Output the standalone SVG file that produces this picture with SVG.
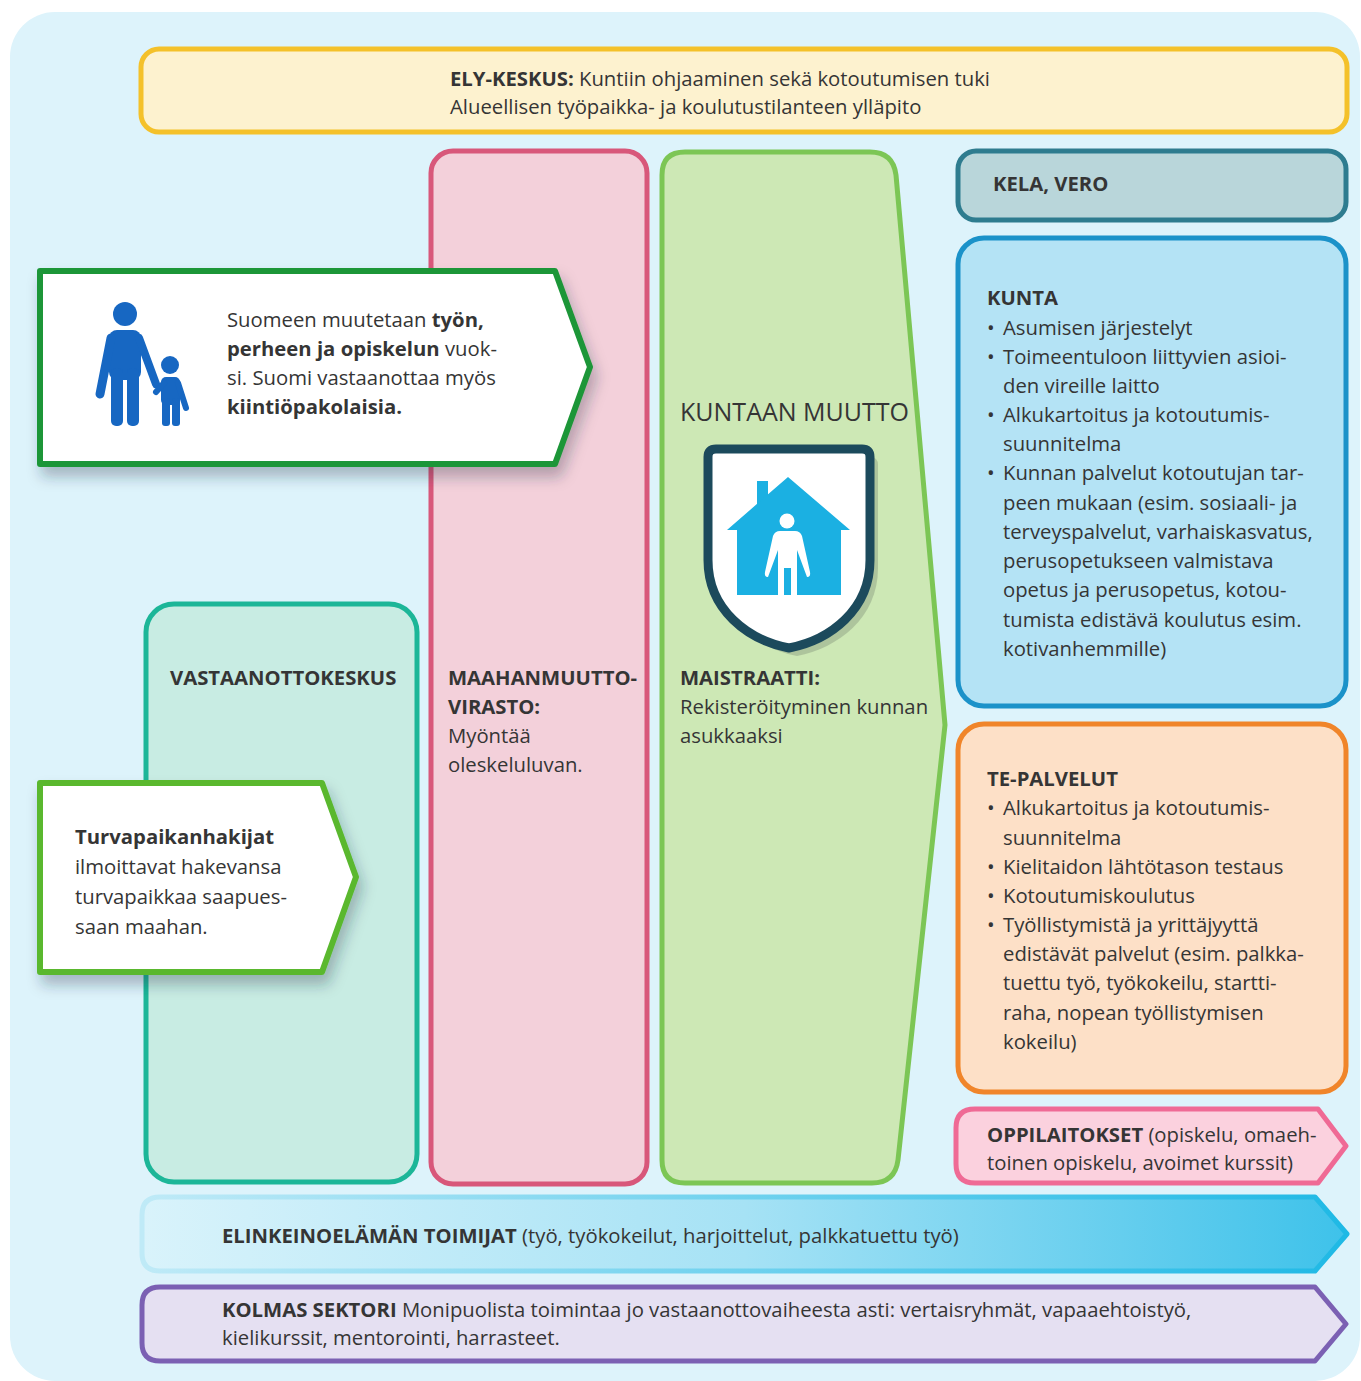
<svg xmlns="http://www.w3.org/2000/svg" width="1361" height="1381" viewBox="0 0 1361 1381">
<defs>
<style>
.t{font-family:"Open Sans","Noto Sans","DejaVu Sans",sans-serif;font-size:20.3px;fill:#353535}
.b{font-weight:700}
.box{stroke-width:5;stroke-linejoin:round}
</style>
<linearGradient id="gElin" x1="0" y1="0" x2="1" y2="0">
<stop offset="0" stop-color="#d9f3fb"/>
<stop offset="0.5" stop-color="#a6e2f5"/>
<stop offset="1" stop-color="#3ec2ea"/>
</linearGradient>
<linearGradient id="gElinS" x1="0" y1="0" x2="1" y2="0">
<stop offset="0" stop-color="#bfeaf7"/>
<stop offset="1" stop-color="#1fb9e5"/>
</linearGradient>
<filter id="sh" x="-10%" y="-10%" width="130%" height="140%">
<feDropShadow dx="4" dy="10" stdDeviation="7" flood-color="#203040" flood-opacity="0.3"/>
</filter>
</defs>
<rect x="0" y="0" width="1361" height="1381" fill="#ffffff"/>
<rect x="10" y="12" width="1350" height="1369" rx="45" fill="#ddf3fb"/>

<g id="ely">
<rect class="box" x="141" y="49" width="1206" height="83" rx="18" fill="#fdf2cf" stroke="#f4c12a"/>
<text class="t" x="450" y="86"><tspan class="b">ELY-KESKUS:</tspan> Kuntiin ohjaaminen sekä kotoutumisen tuki</text>
<text class="t" x="450" y="114">Alueellisen työpaikka- ja koulutustilanteen ylläpito</text>
</g>

<g id="maahanmuuttovirasto">
<rect class="box" x="431" y="151" width="216" height="1033" rx="22" fill="#f3d0da" stroke="#d8577a"/>
<text class="t b" x="448" y="685">MAAHANMUUTTO-</text>
<text class="t b" x="448" y="714">VIRASTO:</text>
<text class="t" x="448" y="743">Myöntää</text>
<text class="t" x="448" y="772">oleskeluluvan.</text>
</g>

<g id="kuntaan-muutto">
<path class="box" d="M685 152 H870 Q893 152 896 175 L945 725 L898 1160 Q895 1183 872 1183 H685 Q662 1183 662 1160 V175 Q662 152 685 152 Z" fill="#cde8b5" stroke="#7cc655"/>
<text class="t" x="680" y="421" style="font-size:25px">KUNTAAN MUUTTO</text>
<path d="M724 457 H870 Q878 457 878 465 V568 C878 618 838 648 797 656 C756 648 716 618 716 568 V465 Q716 457 724 457 Z" fill="#9fb592" opacity="0.7"/>
<path d="M716 449 H862 Q870 449 870 457 V560 C870 610 830 640 789 648 C748 640 708 610 708 560 V457 Q708 449 716 449 Z" fill="#ffffff" stroke="#1c4a5c" stroke-width="9"/>
<rect x="757" y="481" width="11" height="26" fill="#1bb0e2"/>
<path d="M788 477 L850 530 L841 530 L841 595 L737 595 L737 530 L727 530 Z" fill="#1bb0e2"/>
<circle cx="787" cy="521" r="7.5" fill="#ffffff"/>
<path d="M780 531 H795 Q800 531 802 536 L810 572 Q811 577 807 577 L797 550 V595 H791 V568 H784 V595 H778 V550 L768 577 Q764 577 765 572 L773 536 Q775 531 780 531 Z" fill="#ffffff"/>
<text class="t b" x="680" y="685">MAISTRAATTI:</text>
<text class="t" x="680" y="714">Rekisteröityminen kunnan</text>
<text class="t" x="680" y="743">asukkaaksi</text>
</g>

<g id="vastaanottokeskus">
<rect class="box" x="146" y="604" width="271" height="578" rx="28" fill="#c8ece3" stroke="#1cb698"/>
<text class="t b" x="170" y="685">VASTAANOTTOKESKUS</text>
</g>

<g id="muuttajat">
<path d="M40 271 H555 L590 367 L555 464 H40 Z" fill="#ffffff" stroke="#1e9639" stroke-width="6" stroke-linejoin="round" filter="url(#sh)"/>
<g fill="#1767c2" stroke="#1767c2" stroke-linecap="round">
<circle cx="125" cy="314" r="12" stroke="none"/>
<rect x="109" y="330" width="32" height="50" rx="8" stroke="none"/>
<rect x="111" y="368" width="12" height="58" rx="5" stroke="none"/>
<rect x="127" y="368" width="12" height="58" rx="5" stroke="none"/>
<line x1="111" y1="338" x2="100" y2="394" stroke-width="9"/>
<line x1="139" y1="338" x2="156" y2="384" stroke-width="8"/>
<circle cx="170" cy="365" r="9" stroke="none"/>
<rect x="161" y="377" width="19" height="28" rx="5" stroke="none"/>
<rect x="162" y="398" width="8" height="28" rx="3" stroke="none"/>
<rect x="172" y="398" width="8" height="28" rx="3" stroke="none"/>
<line x1="164" y1="383" x2="156" y2="392" stroke-width="6"/>
<line x1="178" y1="383" x2="186" y2="408" stroke-width="6"/>
</g>
<text class="t" x="227" y="327">Suomeen muutetaan <tspan class="b">työn,</tspan></text>
<text class="t" x="227" y="356"><tspan class="b">perheen ja opiskelun</tspan> vuok-</text>
<text class="t" x="227" y="385">si. Suomi vastaanottaa myös</text>
<text class="t b" x="227" y="414">kiintiöpakolaisia.</text>
</g>

<g id="turvapaikanhakijat">
<path d="M40 783 H322 L356 877 L322 972 H40 Z" fill="#ffffff" stroke="#5ab82f" stroke-width="6" stroke-linejoin="round" filter="url(#sh)"/>
<text class="t b" x="75" y="844">Turvapaikanhakijat</text>
<text class="t" x="75" y="874">ilmoittavat hakevansa</text>
<text class="t" x="75" y="904">turvapaikkaa saapues-</text>
<text class="t" x="75" y="934">saan maahan.</text>
</g>

<g id="kela-vero">
<rect class="box" x="958" y="151" width="388" height="69" rx="18" fill="#b9d6da" stroke="#2e7c8f"/>
<text class="t b" x="993" y="191">KELA, VERO</text>
</g>

<g id="kunta">
<rect class="box" x="958" y="238" width="388" height="468" rx="26" fill="#b4e3f5" stroke="#1b92c9"/>
<text class="t b" x="987" y="305">KUNTA</text>
<text class="t" x="987" y="335">•</text><text class="t" x="1003" y="335">Asumisen järjestelyt</text>
<text class="t" x="987" y="364">•</text><text class="t" x="1003" y="364">Toimeentuloon liittyvien asioi-</text>
<text class="t" x="1003" y="393">den vireille laitto</text>
<text class="t" x="987" y="422">•</text><text class="t" x="1003" y="422">Alkukartoitus ja kotoutumis-</text>
<text class="t" x="1003" y="451">suunnitelma</text>
<text class="t" x="987" y="480">•</text><text class="t" x="1003" y="480">Kunnan palvelut kotoutujan tar-</text>
<text class="t" x="1003" y="510">peen mukaan (esim. sosiaali- ja</text>
<text class="t" x="1003" y="539">terveyspalvelut, varhaiskasvatus,</text>
<text class="t" x="1003" y="568">perusopetukseen valmistava</text>
<text class="t" x="1003" y="597">opetus ja perusopetus, kotou-</text>
<text class="t" x="1003" y="627">tumista edistävä koulutus esim.</text>
<text class="t" x="1003" y="656">kotivanhemmille)</text>
</g>

<g id="te-palvelut">
<rect class="box" x="958" y="724" width="388" height="368" rx="26" fill="#fde0c7" stroke="#f0852a"/>
<text class="t b" x="987" y="786">TE-PALVELUT</text>
<text class="t" x="987" y="815">•</text><text class="t" x="1003" y="815">Alkukartoitus ja kotoutumis-</text>
<text class="t" x="1003" y="845">suunnitelma</text>
<text class="t" x="987" y="874">•</text><text class="t" x="1003" y="874">Kielitaidon lähtötason testaus</text>
<text class="t" x="987" y="903">•</text><text class="t" x="1003" y="903">Kotoutumiskoulutus</text>
<text class="t" x="987" y="932">•</text><text class="t" x="1003" y="932">Työllistymistä ja yrittäjyyttä</text>
<text class="t" x="1003" y="961">edistävät palvelut (esim. palkka-</text>
<text class="t" x="1003" y="990">tuettu työ, työkokeilu, startti-</text>
<text class="t" x="1003" y="1020">raha, nopean työllistymisen</text>
<text class="t" x="1003" y="1049">kokeilu)</text>
</g>

<g id="oppilaitokset">
<path class="box" d="M975 1109 H1318 L1346 1146 L1318 1183 H975 Q956 1183 956 1164 V1128 Q956 1109 975 1109 Z" fill="#fbd1de" stroke="#ef6a95"/>
<text class="t" x="987" y="1142"><tspan class="b">OPPILAITOKSET</tspan> (opiskelu, omaeh-</text>
<text class="t" x="987" y="1170">toinen opiskelu, avoimet kurssit)</text>
</g>

<g id="elinkeinoelama">
<path class="box" d="M160 1197 H1315 L1347 1234 L1315 1271 H160 Q142 1271 142 1253 V1215 Q142 1197 160 1197 Z" fill="url(#gElin)" stroke="url(#gElinS)"/>
<text class="t" x="222" y="1243"><tspan class="b">ELINKEINOELÄMÄN TOIMIJAT</tspan> (työ, työkokeilut, harjoittelut, palkkatuettu työ)</text>
</g>

<g id="kolmas-sektori">
<path class="box" d="M160 1287 H1315 L1346 1324 L1315 1361 H160 Q142 1361 142 1343 V1305 Q142 1287 160 1287 Z" fill="#e5e0f2" stroke="#7b60b3"/>
<text class="t" x="222" y="1317"><tspan class="b">KOLMAS SEKTORI</tspan> Monipuolista toimintaa jo vastaanottovaiheesta asti: vertaisryhmät, vapaaehtoistyö,</text>
<text class="t" x="222" y="1345">kielikurssit, mentorointi, harrasteet.</text>
</g>
</svg>
